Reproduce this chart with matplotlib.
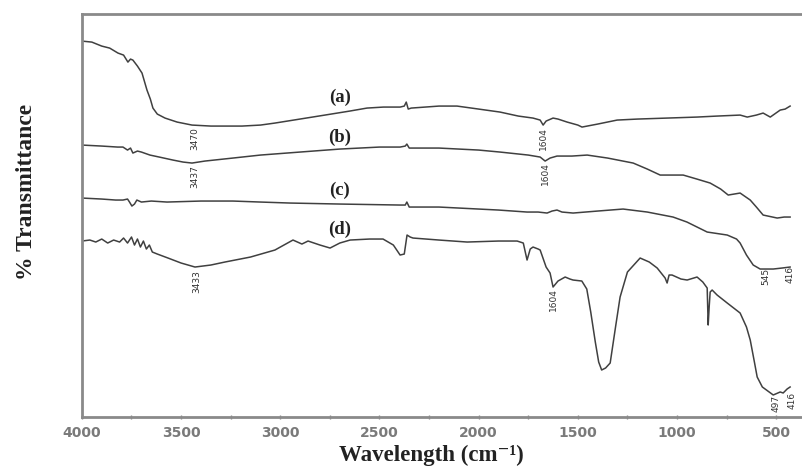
import matplotlib
matplotlib.use("Agg")
from matplotlib import pyplot as plt
from matplotlib.ticker import MultipleLocator

# FTIR spectra, offset transmittance (arbitrary units), wavenumber in cm-1
wn_a = [4000, 3950, 3900, 3860, 3818, 3790, 3768, 3755, 3743, 3720, 3697, 3672, 3655, 3642, 3620,
        3581, 3520, 3445, 3350, 3193, 3100, 3027, 2901, 2775, 2650, 2563, 2480, 2396, 2375, 2365,
        2355, 2340, 2200, 2109, 2000, 1892, 1800, 1726, 1690, 1675, 1660, 1625, 1600, 1554, 1500,
        1479, 1400, 1302, 1200, 1050, 900, 798, 682, 646, 600, 566, 530, 480, 455, 430]
tr_a = [376, 375, 371, 369, 364, 362, 355, 358, 357, 351, 344, 327, 318, 309, 303,
        299, 295, 292, 291, 291, 292, 294, 298, 302, 306, 309, 310, 310, 311, 315,
        308, 309, 311, 311, 308, 305, 301, 299, 297, 292, 296, 299, 298, 295, 292,
        290, 293, 297, 298, 299, 300, 301, 302, 300, 302, 304, 300, 307, 308, 311]

wn_b = [4000, 3900, 3820, 3793, 3770, 3755, 3743, 3720, 3700, 3657, 3610, 3541, 3490, 3445,
        3380, 3239, 3100, 2901, 2700, 2500, 2396, 2370, 2362, 2350, 2200, 2000, 1892, 1750,
        1690, 1665, 1640, 1605, 1530, 1453, 1350, 1221, 1150, 1085, 969, 900, 833, 780, 742,
        682, 631, 600, 566, 495, 460, 430]
tr_b = [272, 271, 270, 270, 267, 269, 264, 266, 265, 262, 260, 257, 255, 254,
        256, 259, 262, 265, 268, 270, 270, 271, 273, 269, 269, 267, 265, 262,
        260, 256, 259, 261, 261, 262, 259, 254, 248, 242, 242, 238, 234, 228, 222,
        224, 217, 210, 202, 199, 200, 200]

wn_c = [4000, 3900, 3830, 3793, 3770, 3760, 3748, 3735, 3723, 3700, 3650, 3571, 3400, 3239,
        3100, 2951, 2700, 2396, 2370, 2362, 2350, 2200, 2000, 1900, 1756, 1700, 1655, 1630,
        1605, 1580, 1524, 1400, 1272, 1150, 1020, 950, 848, 747, 700, 682, 650, 616, 581,
        550, 515, 470, 430]
tr_c = [219, 218, 217, 217, 218, 215, 211, 213, 217, 215, 216, 215, 216, 216,
        215, 214, 213, 212, 212, 215, 210, 210, 208, 207, 205, 205, 204, 206,
        207, 205, 204, 206, 208, 205, 200, 195, 185, 182, 178, 174, 162, 152, 148,
        148, 148, 149, 150]

wn_d = [4000, 3960, 3930, 3900, 3870, 3840, 3810, 3790, 3770, 3750, 3735, 3720, 3705, 3690,
        3675, 3660, 3645, 3620, 3566, 3500, 3430, 3350, 3279, 3150, 3027, 2936, 2891, 2860,
        2800, 2749, 2700, 2648, 2550, 2482, 2430, 2396, 2375, 2361, 2345, 2331, 2200, 2058,
        1900, 1806, 1775, 1756, 1740, 1726, 1700, 1690, 1660, 1640, 1625, 1600, 1564, 1540,
        1524, 1480, 1455, 1435, 1412, 1395, 1380, 1360, 1337, 1310, 1287, 1250, 1186, 1140, 1100,
        1060, 1050, 1040, 1025, 980, 949, 899, 870, 848, 843, 838, 833, 823, 798, 747, 682,
        650, 631, 610, 596, 570, 515, 480, 465, 445, 430]
tr_d = [176, 177, 175, 178, 174, 177, 175, 179, 174, 180, 172, 178, 170, 176,
        168, 172, 165, 163, 159, 154, 150, 152, 155, 160, 167, 177, 173, 176,
        172, 169, 174, 177, 178, 178, 172, 162, 163, 182, 180, 179, 177, 175,
        176, 176, 174, 157, 168, 170, 168, 167, 150, 144, 130, 136, 140, 138,
        137, 136, 128, 105, 75, 55, 47, 49, 54, 90, 120, 145, 159, 155, 149,
        139, 134, 142, 142, 138, 137, 140, 135, 129, 92, 110, 125, 127, 122, 114, 104,
        90, 77, 55, 40, 30, 22, 25, 24, 28, 30]

curve_names = ["(a)", "(b)", "(c)", "(d)"]
name_pos = [(2699, 320), (2699, 280), (2699, 227), (2699, 188)]

peak_text = ["3470", "3437", "1604", "1604", "3433", "1604", "545", "416", "497", "416"]
peak_pos = [(3430, 290), (3430, 252), (1675, 290), (1665, 255), (3420, 147),
            (1625, 129), (555, 149), (430, 151), (500, 22), (420, 25)]

serif = ['Liberation Serif', 'DejaVu Serif']

fig = plt.figure(figsize=(8.03, 4.70), dpi=100)
ax = fig.add_axes([0.102, 0.1128, 0.898, 0.8572])

for wn, tr in [(wn_a, tr_a), (wn_b, tr_b), (wn_c, tr_c), (wn_d, tr_d)]:
    ax.plot(wn, tr, color='#404040', lw=1.1)

for name, (x, y) in zip(curve_names, name_pos):
    ax.text(x, y, name, family=serif, fontweight='bold', fontsize=13.5,
            ha='center', va='center', color='#222222')

for t, (x, y) in zip(peak_text, peak_pos):
    ax.text(x, y, t, rotation=90, fontsize=6.5, ha='center', va='top',
            color='#333333', family=['Liberation Sans Narrow', 'DejaVu Sans'])

ax.set_xlim(4000, 365)
ax.set_ylim(0, 403)
ax.xaxis.set_major_locator(MultipleLocator(500))
ax.xaxis.set_minor_locator(MultipleLocator(250))
ax.set_yticks([])
ax.tick_params(axis='x', which='both', direction='inout', length=3, width=1,
               color='#888888', labelsize=10, labelcolor='#7a7a7a', pad=5)
for lbl in ax.get_xticklabels():
    lbl.set_fontweight('bold')

for s in ['left', 'top', 'bottom']:
    ax.spines[s].set_color('#8a8a8a')
    ax.spines[s].set_linewidth(2)
ax.spines['right'].set_visible(False)

ax.set_xlabel("Wavelength (cm⁻¹)", family=serif, fontweight='bold', fontsize=16.5,
              color='#222222')
ax.set_ylabel("% Transmittance", family=serif, fontweight='bold', fontsize=17,
              color='#222222')
ax.xaxis.set_label_coords(0.485, -0.068)
ax.yaxis.set_label_coords(-0.062, 0.558)

fig.savefig('out.png', dpi=100)
